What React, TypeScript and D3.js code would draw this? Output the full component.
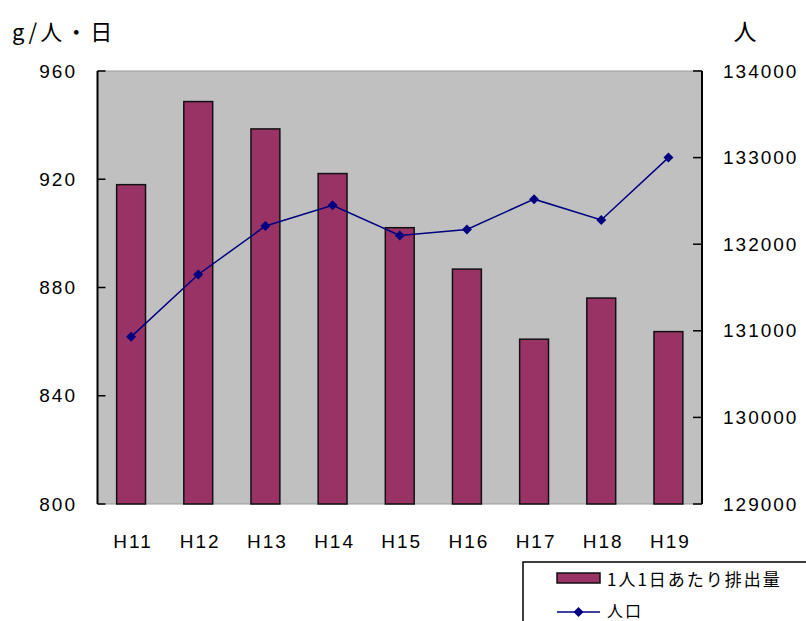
import React from "react";
import * as d3 from "d3";

const categories = ["H11", "H12", "H13", "H14", "H15", "H16", "H17", "H18", "H19"];
const perCapita = [918, 948.7, 938.6, 922.1, 902.1, 886.8, 860.9, 876.1, 863.7];
const population = [130930, 131650, 132210, 132450, 132100, 132170, 132520, 132280, 133000];
const leftTicks = [800, 840, 880, 920, 960];
const rightTicks = [129000, 130000, 131000, 132000, 133000, 134000];
const seriesNames = ["1人1日あたり排出量", "人口"];

const W = 806;
const H = 621;
const plot = { left: 97.5, right: 702, top: 71, bottom: 504 };

export default function App() {
  const x = d3
    .scaleBand<string>()
    .domain(categories)
    .range([plot.left, plot.right])
    .paddingInner(0.57)
    .paddingOuter(0.285);
  const yL = d3.scaleLinear().domain([800, 960]).range([plot.bottom, plot.top]);
  const yR = d3.scaleLinear().domain([129000, 134000]).range([plot.bottom, plot.top]);
  const cx = (c: string) => (x(c) as number) + x.bandwidth() / 2;
  const line = d3
    .line<number>()
    .x((_, i) => cx(categories[i]))
    .y((d) => yR(d));
  const diamond = (px: number, py: number, r = 5) =>
    `M${px},${py - r}L${px + r},${py}L${px},${py + r}L${px - r},${py}Z`;

  const numFont = { fontFamily: "'Liberation Sans', Arial, sans-serif", fontSize: 19, letterSpacing: 2 } as const;
  const cjk = "'Noto Sans CJK JP', 'Liberation Sans', sans-serif";

  return (
    <svg width={W} height={H} style={{ position: "absolute", left: 0, top: 0, background: "#fff" }}>
      <rect x={plot.left} y={plot.top} width={plot.right - plot.left} height={plot.bottom - plot.top} fill="#C0C0C0" stroke="#9a9a9a" strokeWidth={1} />
      {categories.map((c, i) => (
        <rect
          key={c}
          x={x(c)}
          y={yL(perCapita[i])}
          width={x.bandwidth()}
          height={plot.bottom - yL(perCapita[i])}
          fill="#993366"
          stroke="#111"
          strokeWidth={1.5}
        />
      ))}
      <path d={line(population) || ""} fill="none" stroke="#000080" strokeWidth={1.5} />
      {population.map((p, i) => (
        <path key={i} d={diamond(cx(categories[i]), yR(p))} fill="#000080" />
      ))}
      {/* left axis */}
      <line x1={plot.left} x2={plot.left} y1={plot.top} y2={plot.bottom} stroke="#000" strokeWidth={2} />
      {leftTicks.map((t) => (
        <g key={t}>
          <line x1={plot.left} x2={plot.left + 8} y1={yL(t)} y2={yL(t)} stroke="#000" strokeWidth={1.5} />
          <text x={77} y={yL(t)} textAnchor="end" dominantBaseline="central" {...numFont}>
            {t}
          </text>
        </g>
      ))}
      {/* right axis */}
      <line x1={plot.right} x2={plot.right} y1={plot.top} y2={plot.bottom} stroke="#000" strokeWidth={2} />
      {rightTicks.map((t) => (
        <g key={t}>
          <line x1={plot.right - 9} x2={plot.right} y1={yR(t)} y2={yR(t)} stroke="#000" strokeWidth={1.5} />
          <text x={723} y={yR(t)} textAnchor="start" dominantBaseline="central" {...numFont}>
            {t}
          </text>
        </g>
      ))}
      {categories.map((c) => (
        <text key={c} x={cx(c) + 2} y={541} textAnchor="middle" dominantBaseline="central" {...numFont}>
          {c}
        </text>
      ))}
      <text x={12} y={30} dominantBaseline="central" fontFamily={cjk} fontSize={22} letterSpacing={3}>
        g/人・日
      </text>
      <text x={745} y={30} textAnchor="middle" dominantBaseline="central" fontFamily={cjk} fontSize={23}>
        人
      </text>
      {/* legend */}
      <rect x={523} y={562} width={300} height={80} fill="#fff" stroke="#000" strokeWidth={1.5} />
      <rect x={557} y={573} width={43} height={10} fill="#993366" stroke="#111" strokeWidth={1.5} />
      <text x={607} y={578} dominantBaseline="central" fontFamily={cjk} fontSize={17} letterSpacing={2}>
        {seriesNames[0]}
      </text>
      <line x1={557} x2={600} y1={612} y2={612} stroke="#000080" strokeWidth={1.5} />
      <path d={diamond(578.5, 612)} fill="#000080" />
      <text x={607} y={610} dominantBaseline="central" fontFamily={cjk} fontSize={16} letterSpacing={2}>
        {seriesNames[1]}
      </text>
    </svg>
  );
}
